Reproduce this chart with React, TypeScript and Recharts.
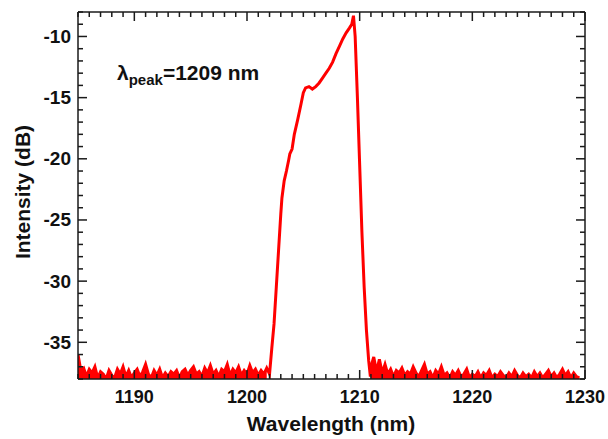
import { ComposedChart, Line, Area, XAxis, YAxis } from 'recharts'

// spectrum (nm / dB)
const noiseLeftNm = [
  1185, 1185.25, 1185.5, 1185.75, 1186, 1186.25, 1186.5, 1186.75, 1187, 1187.25, 1187.5, 1187.75,
  1188, 1188.25, 1188.5, 1188.75, 1189, 1189.25, 1189.5, 1189.75, 1190, 1190.25, 1190.5, 1190.75,
  1191, 1191.25, 1191.5, 1191.75, 1192, 1192.25, 1192.5, 1192.75, 1193, 1193.25, 1193.5, 1193.75,
  1194, 1194.25, 1194.5, 1194.75, 1195, 1195.25, 1195.5, 1195.75, 1196, 1196.25, 1196.5, 1196.75,
  1197, 1197.25, 1197.5, 1197.75, 1198, 1198.25, 1198.5, 1198.75, 1199, 1199.25, 1199.5, 1199.75,
  1200, 1200.25, 1200.5, 1200.75, 1201, 1201.25, 1201.5, 1201.75,
]
const noiseLeftDb = [
  -36.0, -37.3, -37.1, -37.8, -37.2, -37.5, -37.0, -37.9, -37.4, -37.6, -38.0, -37.3,
  -37.7, -37.9, -37.2, -37.6, -37.0, -37.8, -37.3, -37.9, -37.5, -37.2, -37.8, -37.4,
  -36.8, -37.6, -37.9, -37.3, -37.7, -37.2, -37.9, -37.5, -37.8, -37.4, -37.6, -37.3,
  -37.9, -37.4, -37.2, -37.7, -37.3, -37.0, -37.6, -37.4, -37.8, -37.1, -37.5, -36.9,
  -37.6, -37.3, -37.8, -37.2, -37.4, -36.8, -37.7, -37.2, -37.5, -37.0, -37.7, -37.3,
  -37.6, -36.9, -37.5, -37.2, -37.7, -37.3, -37.6, -37.1,
]

const peakNm = [
  1202.0, 1202.2, 1202.4, 1202.6, 1202.8, 1203.0, 1203.1, 1203.3, 1203.5, 1203.7, 1203.8, 1204.0,
  1204.2, 1204.5, 1204.8, 1205.0, 1205.2, 1205.5, 1205.8, 1206.1, 1206.4, 1206.7, 1207.0, 1207.3,
  1207.6, 1207.9, 1208.2, 1208.5, 1208.8, 1209.1, 1209.3, 1209.45, 1209.6, 1209.8, 1210.0, 1210.2,
  1210.4, 1210.6, 1210.8, 1210.95,
]
const peakDb = [
  -37.6, -35.5, -33.5, -30.5, -27.5, -24.5, -23.2, -21.8, -21.0, -20.1, -19.6, -19.2,
  -18.0, -16.8, -15.5, -14.6, -14.2, -14.1, -14.3, -14.1, -13.8, -13.4, -13.0, -12.6,
  -12.1, -11.4, -10.8, -10.2, -9.7, -9.3, -9.0, -8.3, -10.0, -15.0, -20.5, -26.0,
  -30.5, -34.0, -36.5, -37.8,
]

const noiseRightNm = [
  1211, 1211.25, 1211.5, 1211.75, 1212, 1212.25, 1212.5, 1212.75, 1213, 1213.25, 1213.5, 1213.75,
  1214, 1214.25, 1214.5, 1214.75, 1215, 1215.25, 1215.5, 1215.75, 1216, 1216.25, 1216.5, 1216.75,
  1217, 1217.25, 1217.5, 1217.75, 1218, 1218.25, 1218.5, 1218.75, 1219, 1219.25, 1219.5, 1219.75,
  1220, 1220.25, 1220.5, 1220.75, 1221, 1221.25, 1221.5, 1221.75, 1222, 1222.25, 1222.5, 1222.75,
  1223, 1223.25, 1223.5, 1223.75, 1224, 1224.25, 1224.5, 1224.75, 1225, 1225.25, 1225.5, 1225.75,
  1226, 1226.25, 1226.5, 1226.75, 1227, 1227.25, 1227.5, 1227.75, 1228, 1228.25, 1228.5, 1228.75,
  1229, 1229.25, 1229.5,
]
const noiseRightDb = [
  -37.0, -36.2, -37.4, -36.4, -37.5, -36.8, -37.6, -37.2, -37.8, -37.3, -37.5, -37.1,
  -37.7, -37.4, -37.6, -37.0, -37.5, -37.8, -37.3, -36.8, -37.6, -37.4, -37.9, -37.3,
  -37.6, -37.0, -37.7, -37.5, -37.9, -37.4, -37.7, -37.3, -37.8, -37.6, -37.2, -37.9,
  -37.6, -37.8, -37.4, -37.9, -37.5, -37.7, -37.3, -37.9, -37.6, -37.8, -37.4, -37.7,
  -37.9, -37.5, -37.8, -37.3, -37.7, -37.9, -37.5, -37.8, -37.6, -37.9, -37.4, -37.8,
  -37.5, -37.9, -37.6, -37.3, -37.8, -37.5, -37.9, -37.6, -37.2, -37.7, -37.4, -37.9,
  -37.5, -37.8, -37.9,
]

const xMajor = [1190, 1200, 1210, 1220, 1230]
const yMajor = [-35, -30, -25, -20, -15, -10]

// noise floor is drawn as a filled band, the peak as a plain trace
const data = [
  ...noiseLeftNm.map((nm, i) => ({ nm, db: noiseLeftDb[i], floor: noiseLeftDb[i] })),
  ...peakNm.map((nm, i) => ({ nm, db: peakDb[i], floor: null })),
  ...noiseRightNm.map((nm, i) => ({ nm, db: noiseRightDb[i], floor: noiseRightDb[i] })),
]

const xTicks: number[] = []
for (let v = 1185; v <= 1230; v++) xTicks.push(v)
const yTicks: number[] = []
for (let v = -38; v <= -8; v++) yTicks.push(v)

const FONT = '"Liberation Sans", Arial, Helvetica, sans-serif'
const INK = '#1a1a1a'
const MAJOR = 9
const MINOR = 5

function tickRenderer(side: 'bottom' | 'top' | 'left' | 'right') {
  return (props: any) => {
    const { x, y, payload } = props
    const v = payload.value
    const major = side === 'left' || side === 'right' ? yMajor.includes(v) : xMajor.includes(v)
    const len = major ? MAJOR : MINOR
    let line
    if (side === 'bottom') line = <line x1={x} y1={y} x2={x} y2={y - len} />
    else if (side === 'top') line = <line x1={x} y1={y} x2={x} y2={y + len} />
    else if (side === 'left') line = <line x1={x} y1={y} x2={x + len} y2={y} />
    else line = <line x1={x} y1={y} x2={x - len} y2={y} />
    return (
      <g stroke={INK} strokeWidth={1.5}>
        {line}
        {major && side === 'bottom' && (
          <text x={x} y={y + 24} textAnchor="middle" stroke="none" fill="#111"
            fontFamily={FONT} fontWeight="bold" fontSize={18}>{v}</text>
        )}
        {major && side === 'left' && (
          <text x={x - 7} y={y + 6.5} textAnchor="end" stroke="none" fill="#111"
            fontFamily={FONT} fontWeight="bold" fontSize={19}>{v}</text>
        )}
      </g>
    )
  }
}

export default function App() {
  return (
    <div style={{ position: 'absolute', left: 0, top: 0, width: 608, height: 439, background: '#fff' }}>
      <ComposedChart width={608} height={439} data={data}
        margin={{ top: 11, right: 22, bottom: 0, left: 0 }}>
        <XAxis xAxisId="b" dataKey="nm" type="number" domain={[1185, 1230]} allowDataOverflow
          ticks={xTicks} interval={0} height={60} tickSize={0} tickMargin={0} tickLine={false}
          tick={tickRenderer('bottom')} axisLine={{ stroke: INK, strokeWidth: 1.5 }} />
        <XAxis xAxisId="t" dataKey="nm" type="number" orientation="top" domain={[1185, 1230]} allowDataOverflow
          ticks={xTicks} interval={0} height={1} tickSize={0} tickMargin={0} tickLine={false}
          tick={tickRenderer('top')} axisLine={{ stroke: INK, strokeWidth: 1.5 }} />
        <YAxis yAxisId="l" type="number" domain={[-38, -8]} allowDataOverflow
          ticks={yTicks} interval={0} width={78} tickSize={0} tickMargin={0} tickLine={false}
          tick={tickRenderer('left')} axisLine={{ stroke: INK, strokeWidth: 1.5 }} />
        <YAxis yAxisId="r" type="number" orientation="right" domain={[-38, -8]} allowDataOverflow
          ticks={yTicks} interval={0} width={1} tickSize={0} tickMargin={0} tickLine={false}
          tick={tickRenderer('right')} axisLine={{ stroke: INK, strokeWidth: 1.5 }} />
        <Line xAxisId="t" yAxisId="r" dataKey="db" stroke="none" dot={false} isAnimationActive={false} />
        <Area xAxisId="b" yAxisId="l" type="linear" dataKey="floor" stroke="none" fill="#ff0000"
          fillOpacity={1} baseValue={-38} connectNulls={false} dot={false} activeDot={false}
          isAnimationActive={false} />
        <Line xAxisId="b" yAxisId="l" type="linear" dataKey="db" stroke="#ff0000" strokeWidth={3}
          dot={false} activeDot={false} isAnimationActive={false} />
      </ComposedChart>
      <svg width={608} height={439} style={{ position: 'absolute', left: 0, top: 0, pointerEvents: 'none' }}>
        <text x={117} y={80} fontFamily={FONT} fontWeight="bold" fontSize={21} fill="#111">
          λ<tspan fontSize={15} dy={5}>peak</tspan><tspan dy={-5}>=1209 nm</tspan>
        </text>
        <text x={331} y={431} textAnchor="middle" fontFamily={FONT} fontWeight="bold" fontSize={21} fill="#111">
          Wavelength (nm)
        </text>
        <text x={30} y={192} transform="rotate(-90 30 192)" textAnchor="middle" fontFamily={FONT}
          fontWeight="bold" fontSize={21} fill="#111">
          Intensity (dB)
        </text>
      </svg>
    </div>
  )
}
